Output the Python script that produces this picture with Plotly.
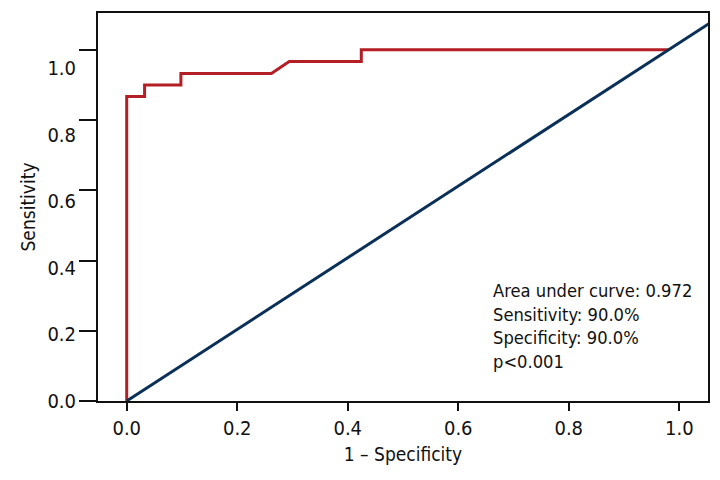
import plotly.graph_objects as go

# ROC curve points (1 - specificity, sensitivity)
roc_fpr = [0.0, 0.0, 0.033, 0.033, 0.1, 0.1, 0.267, 0.3, 0.433, 0.433, 1.0]
roc_tpr = [0.0, 0.867, 0.867, 0.9, 0.9, 0.933, 0.933, 0.967, 0.967, 1.0, 1.0]
ref_x = [0.0, 1.2]
ref_y = [0.0, 1.2]
tick_vals = [0.0, 0.2, 0.4, 0.6, 0.8, 1.0]
tick_text = ["0.0", "0.2", "0.4", "0.6", "0.8", "1.0"]
stats_lines = ["Area under curve: 0.972", "Sensitivity: 90.0%", "Specificity: 90.0%", "p<0.001"]

FONT = "Liberation Sans Narrow, DejaVu Sans Condensed, Arial Narrow, sans-serif"
INK = "#111"

fig = go.Figure()
fig.add_trace(go.Scatter(x=roc_fpr, y=roc_tpr, mode="lines",
                         line=dict(color="#b31f24", width=3)))
fig.add_trace(go.Scatter(x=ref_x, y=ref_y, mode="lines",
                         line=dict(color="#0b3058", width=3), hoverinfo="skip"))
# empty trace that registers the tick/label axes
fig.add_trace(go.Scatter(x=[], y=[], xaxis="x2", yaxis="y2", mode="lines",
                         hoverinfo="skip"))

fig.add_annotation(x=0.672, y=0.35, xref="x", yref="y", xanchor="left", yanchor="top",
                   text="<br>".join(stats_lines), showarrow=False, align="left",
                   font=dict(family=FONT, size=18.2, color=INK))

tickfont = dict(family=FONT, size=20, color=INK)
titlefont = dict(family=FONT, size=19, color=INK)

fig.update_layout(
    width=720, height=480,
    margin=dict(l=90, r=20, t=3, b=87),
    plot_bgcolor="white", paper_bgcolor="white",
    showlegend=False,
    # data axes (box frame)
    xaxis=dict(range=[-0.053, 1.073], showline=True, linecolor=INK, linewidth=2,
               mirror=True, showgrid=False, zeroline=False, ticks="",
               showticklabels=False),
    yaxis=dict(range=[0.0, 1.105], showline=True, linecolor=INK, linewidth=2,
               mirror=True, showgrid=False, zeroline=False,
               ticks="outside", ticklen=17, tickwidth=2, tickcolor=INK,
               tickvals=tick_vals, showticklabels=False),
    # tick/label axes
    xaxis2=dict(overlaying="x", side="bottom", anchor="y", range=[-0.052, 1.052],
                showline=False, showgrid=False, zeroline=False,
                ticks="outside", ticklen=9, tickwidth=2, tickcolor=INK,
                tickvals=tick_vals, ticktext=tick_text, tickfont=tickfont,
                title=dict(text="1 – Specificity", font=titlefont, standoff=8)),
    yaxis2=dict(overlaying="y", side="left", anchor="x", range=[0.0, 1.1666],
                showline=False, showgrid=False, zeroline=False,
                ticks="outside", ticklen=17, tickcolor="rgba(0,0,0,0)",
                tickvals=tick_vals, ticktext=tick_text, tickfont=tickfont,
                title=dict(text="Sensitivity", font=titlefont, standoff=6)),
)

fig.write_html("out.html")
